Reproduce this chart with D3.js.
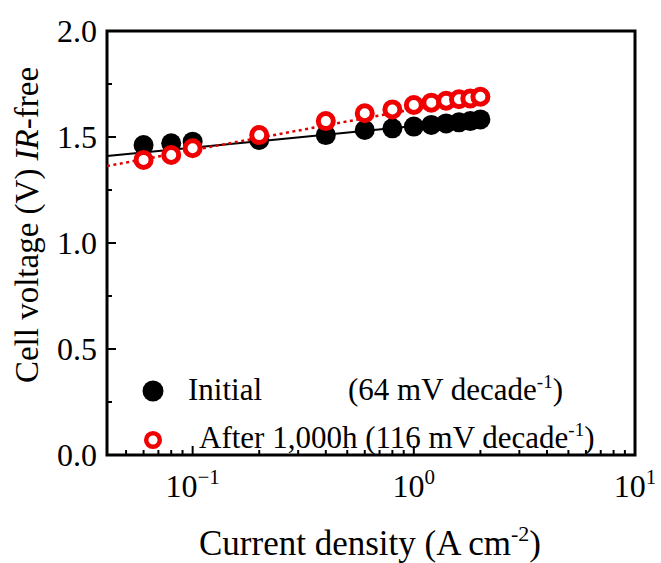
<!DOCTYPE html>
<html>
<head>
<meta charset="utf-8">
<script src="https://cdn.jsdelivr.net/npm/d3@7"></script>
<style>
  body { margin: 0; background: #fff; }
  text { font-family: "Liberation Serif", "Times New Roman", serif; fill: #000; }
</style>
</head>
<body>
<div id="wrapper"></div>
<script>
// current density (A cm-2)
const current = [0.06, 0.08, 0.1, 0.2, 0.4, 0.6, 0.8, 1.0, 1.2, 1.4, 1.6, 1.8, 2.0];
// cell voltage, IR-free (V)
const initialV = [1.462, 1.47, 1.478, 1.486, 1.509, 1.533, 1.541, 1.549, 1.557, 1.564, 1.569, 1.575, 1.583];
const afterV = [1.392, 1.415, 1.447, 1.509, 1.575, 1.612, 1.63, 1.651, 1.662, 1.671, 1.678, 1.682, 1.69];
// Tafel fit lines, [current, voltage] end points
const initialFit = [[0.041, 1.41], [2.0, 1.582]];
const afterFit = [[0.041, 1.363], [2.0, 1.69]];
const yTicks = [0, 0.5, 1.0, 1.5, 2.0];
const xTicks = [0.1, 1, 10];
const legendLabels = ["Initial", "After 1,000h"];
const legendSlopes = ["64", "116"];

const W = 661, H = 563;
const m = {left: 107, top: 31, right: 26, bottom: 108};
const w = W - m.left - m.right, h = H - m.top - m.bottom;

const svg = d3.select("#wrapper").append("svg").attr("width", W).attr("height", H);
const g = svg.append("g").attr("transform", `translate(${m.left},${m.top})`);

const x = d3.scaleLog().domain([0.041, 10]).range([0, w]);
const y = d3.scaleLinear().domain([0, 2.0]).range([h, 0]);

// y axis, ticks inward
const yMinor = d3.range(0, 2.01, 0.25);
g.selectAll(".ymin").data(yMinor).enter().append("line")
  .attr("x1", 0).attr("x2", d => (d * 4) % 2 === 0 ? 9 : 5)
  .attr("y1", d => y(d)).attr("y2", d => y(d))
  .attr("stroke", "#000").attr("stroke-width", 2);
g.selectAll(".ylab").data(yTicks).enter().append("text")
  .attr("x", -10).attr("y", d => y(d)).attr("dy", "0.35em")
  .attr("text-anchor", "end").style("font-size", "32px")
  .text(d => d.toFixed(1));

// x axis, log ticks inward
const xMinor = [];
[0.01, 0.1, 1].forEach(dec => { for (let k = 1; k <= 9; k++) xMinor.push(dec * k); });
const xAll = xMinor.concat([10]).filter(d => d >= 0.041 && d <= 10);
g.selectAll(".xmin").data(xAll).enter().append("line")
  .attr("x1", d => x(d)).attr("x2", d => x(d))
  .attr("y1", h).attr("y2", d => xTicks.some(t => Math.abs(t - d) < 1e-9) ? h - 9 : h - 5)
  .attr("stroke", "#000").attr("stroke-width", 2);
const xl = g.selectAll(".xlab").data(xTicks).enter().append("text")
  .attr("x", d => x(d)).attr("y", h + 42)
  .attr("text-anchor", "middle").style("font-size", "32px");
xl.append("tspan").text("10");
xl.append("tspan").attr("dy", -13).style("font-size", "21px")
  .text(d => { const e = Math.round(Math.log10(d)); return e < 0 ? "\u2212" + (-e) : e; });

// frame
g.append("rect").attr("width", w).attr("height", h)
  .attr("fill", "none").attr("stroke", "#000").attr("stroke-width", 3);

const line = d3.line().x(d => x(d[0])).y(d => y(d[1]));

// initial
g.append("path").datum(initialFit).attr("d", line)
  .attr("fill", "none").attr("stroke", "#000").attr("stroke-width", 2);
g.selectAll(".dot0").data(current).enter().append("circle")
  .attr("cx", d => x(d)).attr("cy", (d, i) => y(initialV[i])).attr("r", 10)
  .attr("fill", "#000");

// after 1000 h
g.append("path").datum(afterFit).attr("d", line)
  .attr("fill", "none").attr("stroke", "#e00000").attr("stroke-width", 2.5)
  .attr("stroke-dasharray", "3,3.5");
g.selectAll(".dot1").data(current).enter().append("circle")
  .attr("cx", d => x(d)).attr("cy", (d, i) => y(afterV[i])).attr("r", 7.5)
  .attr("fill", "#fff").attr("stroke", "#f00000").attr("stroke-width", 5);

// legend
const lg = svg.append("g");
lg.append("circle").attr("cx", 153).attr("cy", 391).attr("r", 10.5).attr("fill", "#000");
lg.append("circle").attr("cx", 153).attr("cy", 440).attr("r", 6.8).attr("fill", "#fff")
  .attr("stroke", "#f00000").attr("stroke-width", 4.5);
lg.append("text").attr("x", 188).attr("y", 400).style("font-size", "31px").text(legendLabels[0]);
const t0b = lg.append("text").attr("x", 348).attr("y", 400).style("font-size", "31px");
t0b.append("tspan").text(`(${legendSlopes[0]} mV decade`);
t0b.append("tspan").attr("dy", -12).style("font-size", "19px").text("-1");
t0b.append("tspan").attr("dy", 12).text(")");
const t1 = lg.append("text").attr("x", 199).attr("y", 448).style("font-size", "31px");
t1.append("tspan").text(`${legendLabels[1]} (${legendSlopes[1]} mV decade`);
t1.append("tspan").attr("dy", -12).style("font-size", "19px").text("-1");
t1.append("tspan").attr("dy", 12).text(")");

// axis titles
const xt = svg.append("text").attr("x", 370).attr("y", 555)
  .attr("text-anchor", "middle").style("font-size", "35px");
xt.append("tspan").text("Current density (A cm");
xt.append("tspan").attr("dy", -14).style("font-size", "22px").text("-2");
xt.append("tspan").attr("dy", 14).text(")");

const yt = svg.append("text").attr("transform", "translate(38,225) rotate(-90)")
  .attr("text-anchor", "middle").style("font-size", "33px");
yt.append("tspan").text("Cell voltage (V) ");
yt.append("tspan").style("font-style", "italic").text("IR");
yt.append("tspan").text("-free");
</script>
</body>
</html>
